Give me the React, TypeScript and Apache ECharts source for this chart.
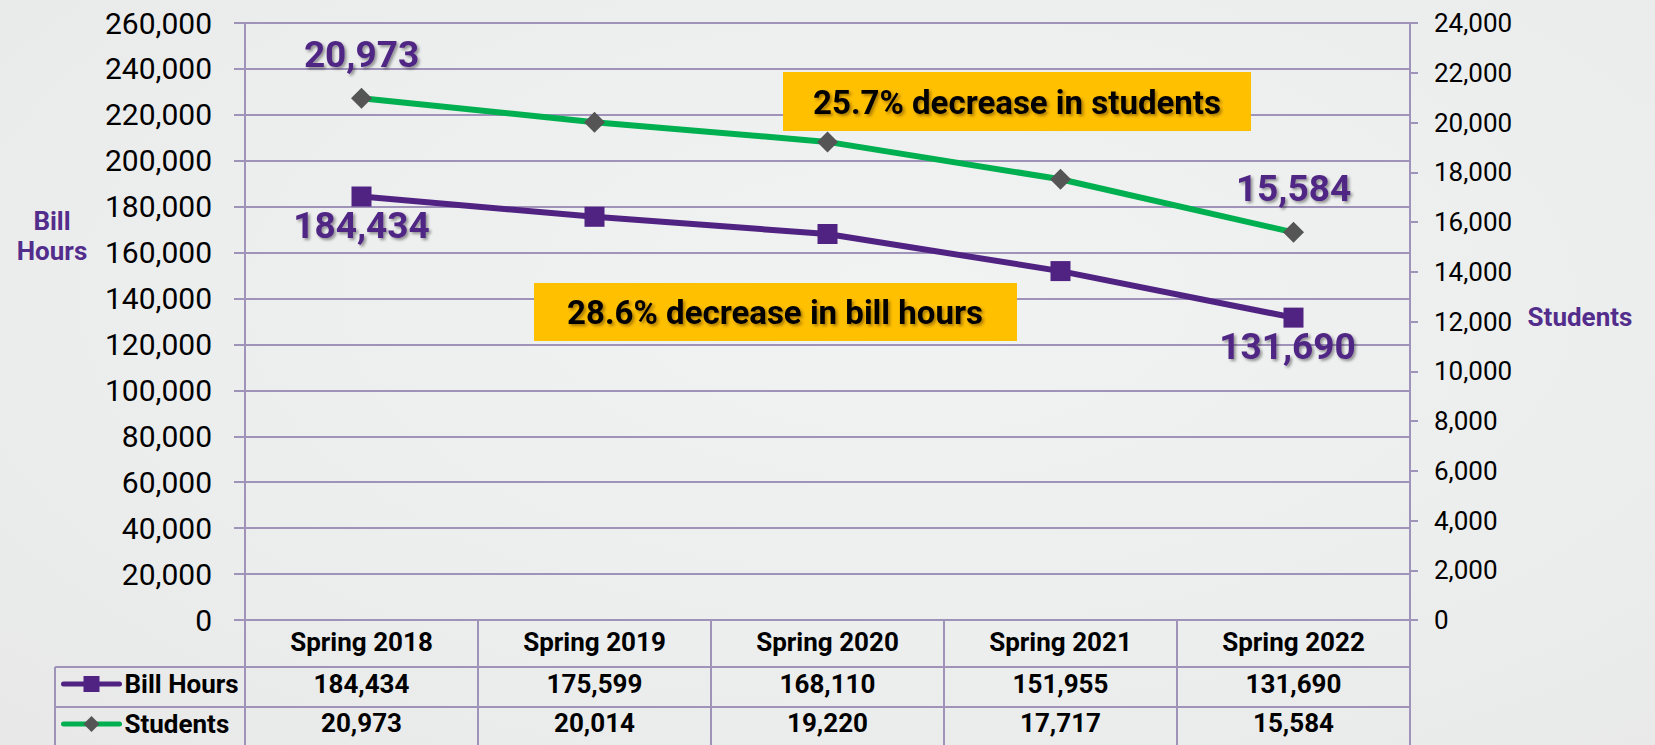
import React, { useEffect, useRef } from "react";
import * as echarts from "echarts";

const categories = ["Spring 2018", "Spring 2019", "Spring 2020", "Spring 2021", "Spring 2022"];
const billHours = [184434, 175599, 168110, 151955, 131690];
const students = [20973, 20014, 19220, 17717, 15584];
const leftAxis = { min: 0, max: 260000, interval: 20000 };
const rightAxis = { min: 0, max: 24000, interval: 2000 };
const studentsNote = "25.7% decrease in students";
const hoursNote = "28.6% decrease in bill hours";

const fmt = (v: number) => v.toLocaleString("en-US");

const W = 1655;
const H = 745;
const GRID_L = 245;
const GRID_R = 1410;
const GRID_T = 23;
const GRID_B = 620;
const TABLE_L = 55;
const ROW_LINES = [667, 707];

const PURPLE = "#502282";
const LABEL_PURPLE = "#4F2683";
const GREEN = "#00B050";
const DIAMOND = "#555555";
const GRID = "#A093BA";
const FONT = "Roboto";

export default function App() {
  const ref = useRef<HTMLDivElement>(null);

  useEffect(() => {
    if (!ref.current) return;
    const chart = echarts.init(ref.current, undefined, { renderer: "svg", width: W, height: H });
    const last = billHours.length - 1;

    const dataLabel = {
      fontSize: 37,
      fontWeight: "bold" as const,
      fontFamily: FONT,
      color: LABEL_PURPLE,
      textShadowColor: "rgba(0,0,0,0.4)",
      textShadowBlur: 3,
      textShadowOffsetX: 2,
      textShadowOffsetY: 2,
      formatter: (p: any) => fmt(p.value),
    };

    const tableLabel = {
      fontSize: 26,
      fontWeight: "bold" as const,
      fontFamily: FONT,
      color: "#000",
    };

    const legendBase = {
      left: 61,
      orient: "horizontal" as const,
      itemWidth: 56,
      itemHeight: 20,
      padding: 0,
      selectedMode: false,
      lineStyle: { width: 5, cap: "round" },
      textStyle: { ...tableLabel },
    };

    const option: any = {
      animation: false,
      backgroundColor: "transparent",
      grid: { left: GRID_L, right: W - GRID_R, top: GRID_T, bottom: H - GRID_B, containLabel: false },
      legend: [
        { ...legendBase, data: ["Bill Hours"], top: 671 },
        { ...legendBase, data: ["Students"], top: 711 },
      ],
      xAxis: [
        {
          type: "category",
          data: categories,
          position: "bottom",
          boundaryGap: true,
          axisLine: { show: true, onZero: false, lineStyle: { color: GRID, width: 2 } },
          axisTick: { show: true, interval: 0, length: 126, lineStyle: { color: GRID, width: 2 } },
          axisLabel: { ...tableLabel, margin: 9, interval: 0 },
          splitLine: { show: false },
        },
        {
          type: "category",
          data: billHours.map(fmt),
          position: "bottom",
          boundaryGap: true,
          axisLine: { show: false, onZero: false },
          axisTick: { show: false },
          axisLabel: { ...tableLabel, margin: 51, interval: 0 },
          splitLine: { show: false },
        },
        {
          type: "category",
          data: students.map(fmt),
          position: "bottom",
          boundaryGap: true,
          axisLine: { show: false, onZero: false },
          axisTick: { show: false },
          axisLabel: { ...tableLabel, margin: 90, interval: 0 },
          splitLine: { show: false },
        },
      ],
      yAxis: [
        {
          type: "value",
          position: "left",
          ...leftAxis,
          axisLine: { show: true, lineStyle: { color: GRID, width: 2 } },
          axisTick: { show: true, length: 11, lineStyle: { color: GRID, width: 2 } },
          axisLabel: { fontSize: 30, fontFamily: FONT, color: "#000", margin: 33, formatter: fmt },
          splitLine: { show: true, lineStyle: { color: GRID, width: 2 } },
        },
        {
          type: "value",
          position: "right",
          ...rightAxis,
          axisLine: { show: true, lineStyle: { color: GRID, width: 2 } },
          axisTick: { show: true, length: 8, lineStyle: { color: GRID, width: 2 } },
          axisLabel: { fontSize: 26, fontFamily: FONT, color: "#000", margin: 24, formatter: fmt },
          splitLine: { show: false },
        },
      ],
      series: [
        {
          name: "Bill Hours",
          type: "line",
          xAxisIndex: 0,
          yAxisIndex: 0,
          symbol: "rect",
          symbolSize: 20,
          lineStyle: { color: PURPLE, width: 6 },
          itemStyle: { color: PURPLE },
          label: { ...dataLabel, position: "bottom", distance: 0 },
          data: billHours.map((v, i) => ({
            value: v,
            label: { show: i === 0 || i === last, offset: i === last ? [-6, 0] : [0, 0] },
          })),
          z: 3,
        },
        {
          name: "Students",
          type: "line",
          xAxisIndex: 0,
          yAxisIndex: 1,
          symbol: "diamond",
          symbolSize: 21,
          lineStyle: { color: GREEN, width: 6 },
          itemStyle: { color: DIAMOND },
          label: { ...dataLabel, position: "top", distance: 15 },
          data: students.map((v, i) => ({
            value: v,
            label: { show: i === 0 || i === last },
          })),
          z: 3,
        },
      ],
      graphic: [
        ...ROW_LINES.map((y) => ({
          type: "line",
          shape: { x1: TABLE_L, y1: y, x2: GRID_R, y2: y },
          style: { stroke: GRID, lineWidth: 2 },
          silent: true,
        })),
        {
          type: "line",
          shape: { x1: TABLE_L, y1: ROW_LINES[0], x2: TABLE_L, y2: H },
          style: { stroke: GRID, lineWidth: 2 },
          silent: true,
        },
        {
          type: "rect",
          shape: { x: 783, y: 72, width: 468, height: 59 },
          style: { fill: "#FFC000" },
          z: 10,
        },
        {
          type: "text",
          x: 1017,
          y: 102,
          style: {
            text: studentsNote,
            fontSize: 33,
            fontWeight: "bold",
            fontFamily: FONT,
            fill: "#000",
            align: "center",
            verticalAlign: "middle",
            textShadowColor: "rgba(60,40,0,0.45)",
            textShadowBlur: 3,
            textShadowOffsetX: 2,
            textShadowOffsetY: 2,
          },
          z: 11,
        },
        {
          type: "rect",
          shape: { x: 534, y: 283, width: 483, height: 58 },
          style: { fill: "#FFC000" },
          z: 10,
        },
        {
          type: "text",
          x: 775,
          y: 312,
          style: {
            text: hoursNote,
            fontSize: 33,
            fontWeight: "bold",
            fontFamily: FONT,
            fill: "#000",
            align: "center",
            verticalAlign: "middle",
            textShadowColor: "rgba(60,40,0,0.45)",
            textShadowBlur: 3,
            textShadowOffsetX: 2,
            textShadowOffsetY: 2,
          },
          z: 11,
        },
        {
          type: "text",
          x: 52,
          y: 236,
          style: {
            text: "Bill\nHours",
            fontSize: 26,
            fontWeight: "bold",
            fontFamily: FONT,
            fill: "#532D8C",
            align: "center",
            verticalAlign: "middle",
            lineHeight: 30,
          },
        },
        {
          type: "text",
          x: 1580,
          y: 317,
          style: {
            text: "Students",
            fontSize: 26,
            fontWeight: "bold",
            fontFamily: FONT,
            fill: "#532D8C",
            align: "center",
            verticalAlign: "middle",
          },
        },
      ],
    };

    chart.setOption(option);
    return () => chart.dispose();
  }, []);

  return (
    <div
      style={{
        position: "absolute",
        left: 0,
        top: 0,
        width: W,
        height: H,
        background: "radial-gradient(ellipse at 55% 40%, #F1F2F2 0%, #ECEDED 60%, #E8E8E8 100%)",
      }}
    >
      <div ref={ref} style={{ width: W, height: H }} />
    </div>
  );
}
